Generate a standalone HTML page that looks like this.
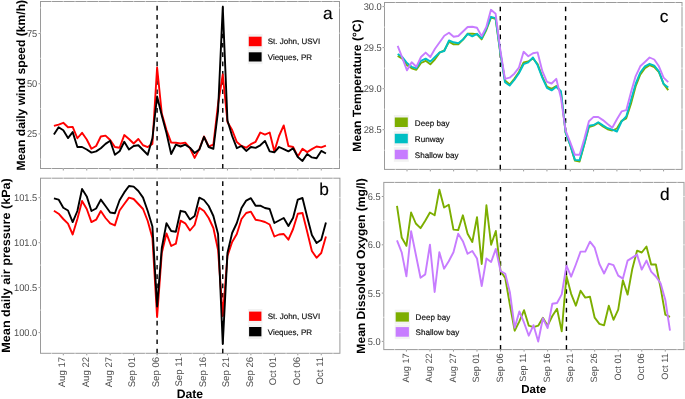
<!DOCTYPE html>
<html><head><meta charset="utf-8"><style>
html,body{margin:0;padding:0;background:#fff;width:685px;height:399px;overflow:hidden}
body{position:relative;font-family:"Liberation Sans", sans-serif;text-rendering:geometricPrecision}
</style></head><body>
<svg width="685" height="399" viewBox="0 0 685 399" style="position:absolute;left:0;top:0;will-change:transform">
<g font-family='"Liberation Sans", sans-serif'>
<rect x="40.5" y="1.5" width="299.00" height="167.00" fill="none" stroke="#9a9a9a" stroke-width="1"/>
<line x1="51.57" y1="0.5" x2="51.57" y2="2.5" stroke="#ffffff" stroke-width="0.55"/>
<line x1="51.57" y1="167.5" x2="51.57" y2="169.5" stroke="#ffffff" stroke-width="0.55"/>
<line x1="63.30" y1="0.5" x2="63.30" y2="2.5" stroke="#ffffff" stroke-width="0.55"/>
<line x1="63.30" y1="167.5" x2="63.30" y2="169.5" stroke="#ffffff" stroke-width="0.55"/>
<line x1="75.03" y1="0.5" x2="75.03" y2="2.5" stroke="#ffffff" stroke-width="0.55"/>
<line x1="75.03" y1="167.5" x2="75.03" y2="169.5" stroke="#ffffff" stroke-width="0.55"/>
<line x1="86.75" y1="0.5" x2="86.75" y2="2.5" stroke="#ffffff" stroke-width="0.55"/>
<line x1="86.75" y1="167.5" x2="86.75" y2="169.5" stroke="#ffffff" stroke-width="0.55"/>
<line x1="98.47" y1="0.5" x2="98.47" y2="2.5" stroke="#ffffff" stroke-width="0.55"/>
<line x1="98.47" y1="167.5" x2="98.47" y2="169.5" stroke="#ffffff" stroke-width="0.55"/>
<line x1="110.20" y1="0.5" x2="110.20" y2="2.5" stroke="#ffffff" stroke-width="0.55"/>
<line x1="110.20" y1="167.5" x2="110.20" y2="169.5" stroke="#ffffff" stroke-width="0.55"/>
<line x1="121.93" y1="0.5" x2="121.93" y2="2.5" stroke="#ffffff" stroke-width="0.55"/>
<line x1="121.93" y1="167.5" x2="121.93" y2="169.5" stroke="#ffffff" stroke-width="0.55"/>
<line x1="133.65" y1="0.5" x2="133.65" y2="2.5" stroke="#ffffff" stroke-width="0.55"/>
<line x1="133.65" y1="167.5" x2="133.65" y2="169.5" stroke="#ffffff" stroke-width="0.55"/>
<line x1="145.38" y1="0.5" x2="145.38" y2="2.5" stroke="#ffffff" stroke-width="0.55"/>
<line x1="145.38" y1="167.5" x2="145.38" y2="169.5" stroke="#ffffff" stroke-width="0.55"/>
<line x1="157.10" y1="0.5" x2="157.10" y2="2.5" stroke="#ffffff" stroke-width="0.55"/>
<line x1="157.10" y1="167.5" x2="157.10" y2="169.5" stroke="#ffffff" stroke-width="0.55"/>
<line x1="168.82" y1="0.5" x2="168.82" y2="2.5" stroke="#ffffff" stroke-width="0.55"/>
<line x1="168.82" y1="167.5" x2="168.82" y2="169.5" stroke="#ffffff" stroke-width="0.55"/>
<line x1="180.55" y1="0.5" x2="180.55" y2="2.5" stroke="#ffffff" stroke-width="0.55"/>
<line x1="180.55" y1="167.5" x2="180.55" y2="169.5" stroke="#ffffff" stroke-width="0.55"/>
<line x1="192.28" y1="0.5" x2="192.28" y2="2.5" stroke="#ffffff" stroke-width="0.55"/>
<line x1="192.28" y1="167.5" x2="192.28" y2="169.5" stroke="#ffffff" stroke-width="0.55"/>
<line x1="204.00" y1="0.5" x2="204.00" y2="2.5" stroke="#ffffff" stroke-width="0.55"/>
<line x1="204.00" y1="167.5" x2="204.00" y2="169.5" stroke="#ffffff" stroke-width="0.55"/>
<line x1="215.73" y1="0.5" x2="215.73" y2="2.5" stroke="#ffffff" stroke-width="0.55"/>
<line x1="215.73" y1="167.5" x2="215.73" y2="169.5" stroke="#ffffff" stroke-width="0.55"/>
<line x1="227.45" y1="0.5" x2="227.45" y2="2.5" stroke="#ffffff" stroke-width="0.55"/>
<line x1="227.45" y1="167.5" x2="227.45" y2="169.5" stroke="#ffffff" stroke-width="0.55"/>
<line x1="239.18" y1="0.5" x2="239.18" y2="2.5" stroke="#ffffff" stroke-width="0.55"/>
<line x1="239.18" y1="167.5" x2="239.18" y2="169.5" stroke="#ffffff" stroke-width="0.55"/>
<line x1="250.90" y1="0.5" x2="250.90" y2="2.5" stroke="#ffffff" stroke-width="0.55"/>
<line x1="250.90" y1="167.5" x2="250.90" y2="169.5" stroke="#ffffff" stroke-width="0.55"/>
<line x1="262.62" y1="0.5" x2="262.62" y2="2.5" stroke="#ffffff" stroke-width="0.55"/>
<line x1="262.62" y1="167.5" x2="262.62" y2="169.5" stroke="#ffffff" stroke-width="0.55"/>
<line x1="274.35" y1="0.5" x2="274.35" y2="2.5" stroke="#ffffff" stroke-width="0.55"/>
<line x1="274.35" y1="167.5" x2="274.35" y2="169.5" stroke="#ffffff" stroke-width="0.55"/>
<line x1="286.08" y1="0.5" x2="286.08" y2="2.5" stroke="#ffffff" stroke-width="0.55"/>
<line x1="286.08" y1="167.5" x2="286.08" y2="169.5" stroke="#ffffff" stroke-width="0.55"/>
<line x1="297.80" y1="0.5" x2="297.80" y2="2.5" stroke="#ffffff" stroke-width="0.55"/>
<line x1="297.80" y1="167.5" x2="297.80" y2="169.5" stroke="#ffffff" stroke-width="0.55"/>
<line x1="309.53" y1="0.5" x2="309.53" y2="2.5" stroke="#ffffff" stroke-width="0.55"/>
<line x1="309.53" y1="167.5" x2="309.53" y2="169.5" stroke="#ffffff" stroke-width="0.55"/>
<line x1="321.25" y1="0.5" x2="321.25" y2="2.5" stroke="#ffffff" stroke-width="0.55"/>
<line x1="321.25" y1="167.5" x2="321.25" y2="169.5" stroke="#ffffff" stroke-width="0.55"/>
<line x1="332.98" y1="0.5" x2="332.98" y2="2.5" stroke="#ffffff" stroke-width="0.55"/>
<line x1="332.98" y1="167.5" x2="332.98" y2="169.5" stroke="#ffffff" stroke-width="0.55"/>
<line x1="39.5" y1="159.10" x2="41.5" y2="159.10" stroke="#ffffff" stroke-width="0.55"/>
<line x1="338.5" y1="159.10" x2="340.5" y2="159.10" stroke="#ffffff" stroke-width="0.55"/>
<line x1="39.5" y1="133.90" x2="41.5" y2="133.90" stroke="#ffffff" stroke-width="0.55"/>
<line x1="338.5" y1="133.90" x2="340.5" y2="133.90" stroke="#ffffff" stroke-width="0.55"/>
<line x1="39.5" y1="108.70" x2="41.5" y2="108.70" stroke="#ffffff" stroke-width="0.55"/>
<line x1="338.5" y1="108.70" x2="340.5" y2="108.70" stroke="#ffffff" stroke-width="0.55"/>
<line x1="39.5" y1="83.50" x2="41.5" y2="83.50" stroke="#ffffff" stroke-width="0.55"/>
<line x1="338.5" y1="83.50" x2="340.5" y2="83.50" stroke="#ffffff" stroke-width="0.55"/>
<line x1="39.5" y1="58.30" x2="41.5" y2="58.30" stroke="#ffffff" stroke-width="0.55"/>
<line x1="338.5" y1="58.30" x2="340.5" y2="58.30" stroke="#ffffff" stroke-width="0.55"/>
<line x1="39.5" y1="33.10" x2="41.5" y2="33.10" stroke="#ffffff" stroke-width="0.55"/>
<line x1="338.5" y1="33.10" x2="340.5" y2="33.10" stroke="#ffffff" stroke-width="0.55"/>
<line x1="39.5" y1="7.90" x2="41.5" y2="7.90" stroke="#ffffff" stroke-width="0.55"/>
<line x1="338.5" y1="7.90" x2="340.5" y2="7.90" stroke="#ffffff" stroke-width="0.55"/>
<line x1="157.10" y1="168.5" x2="157.10" y2="1.5" stroke="#000" stroke-width="1.4" stroke-dasharray="4.6,4.7"/>
<line x1="222.76" y1="168.5" x2="222.76" y2="1.5" stroke="#000" stroke-width="1.4" stroke-dasharray="4.6,4.7"/>
<polyline points="53.92,125.96 58.61,124.56 63.30,122.81 67.99,127.19 72.68,126.84 77.37,138.25 82.06,132.81 86.75,139.47 91.44,148.77 96.13,145.96 100.82,136.49 105.51,135.61 110.20,140.00 114.89,147.02 119.58,147.72 124.27,135.09 128.96,138.95 133.65,143.51 138.34,138.95 143.03,145.26 147.72,147.02 152.41,143.86 157.10,67.50 161.79,113.50 166.48,130.00 171.17,142.60 175.86,142.80 180.55,143.50 185.24,142.60 189.93,148.20 194.62,157.90 199.31,149.10 204.00,136.50 208.69,146.50 213.38,144.70 218.07,104.00 222.76,74.50 227.45,122.00 232.14,130.00 236.83,142.10 241.52,146.00 246.21,147.70 250.90,144.20 255.59,141.80 260.28,132.50 264.97,134.60 269.66,132.50 274.35,151.40 279.04,136.00 283.73,125.40 288.42,146.00 293.11,147.00 297.80,156.50 302.49,148.80 307.18,152.10 311.87,149.10 316.56,146.50 321.25,147.40 325.94,145.60" fill="none" stroke="#ff0000" stroke-width="1.9" stroke-linejoin="round" stroke-linecap="butt"/>
<polyline points="53.92,134.56 58.61,127.19 63.30,130.18 67.99,138.07 72.68,132.10 77.37,147.02 82.06,147.02 86.75,149.47 91.44,152.63 96.13,151.40 100.82,148.25 105.51,143.86 110.20,140.70 114.89,154.74 119.58,151.23 124.27,141.75 128.96,149.47 133.65,145.96 138.34,145.26 143.03,150.00 147.72,154.74 152.41,138.25 157.10,96.50 161.79,115.50 166.48,133.00 171.17,154.00 175.86,144.70 180.55,146.50 185.24,144.70 189.93,147.70 194.62,153.00 199.31,149.60 204.00,136.80 208.69,147.00 213.38,148.80 218.07,111.00 222.76,7.00 227.45,120.50 232.14,136.00 236.83,148.20 241.52,146.00 246.21,150.90 250.90,147.00 255.59,147.90 260.28,145.30 264.97,140.90 269.66,151.40 274.35,152.30 279.04,147.00 283.73,149.10 288.42,151.40 293.11,148.20 297.80,157.00 302.49,160.90 307.18,154.00 311.87,157.40 316.56,158.20 321.25,150.90 325.94,153.50" fill="none" stroke="#000000" stroke-width="1.9" stroke-linejoin="round" stroke-linecap="butt"/>
<line x1="63.30" y1="168.5" x2="63.30" y2="170.5" stroke="#9a9a9a" stroke-width="1"/>
<line x1="86.75" y1="168.5" x2="86.75" y2="170.5" stroke="#9a9a9a" stroke-width="1"/>
<line x1="110.20" y1="168.5" x2="110.20" y2="170.5" stroke="#9a9a9a" stroke-width="1"/>
<line x1="133.65" y1="168.5" x2="133.65" y2="170.5" stroke="#9a9a9a" stroke-width="1"/>
<line x1="157.10" y1="168.5" x2="157.10" y2="170.5" stroke="#9a9a9a" stroke-width="1"/>
<line x1="180.55" y1="168.5" x2="180.55" y2="170.5" stroke="#9a9a9a" stroke-width="1"/>
<line x1="204.00" y1="168.5" x2="204.00" y2="170.5" stroke="#9a9a9a" stroke-width="1"/>
<line x1="227.45" y1="168.5" x2="227.45" y2="170.5" stroke="#9a9a9a" stroke-width="1"/>
<line x1="250.90" y1="168.5" x2="250.90" y2="170.5" stroke="#9a9a9a" stroke-width="1"/>
<line x1="274.35" y1="168.5" x2="274.35" y2="170.5" stroke="#9a9a9a" stroke-width="1"/>
<line x1="297.80" y1="168.5" x2="297.80" y2="170.5" stroke="#9a9a9a" stroke-width="1"/>
<line x1="321.25" y1="168.5" x2="321.25" y2="170.5" stroke="#9a9a9a" stroke-width="1"/>
<line x1="38.5" y1="133.9" x2="40.5" y2="133.9" stroke="#9a9a9a" stroke-width="1"/>
<text x="26.96" y="137.41" font-size="9.8" fill="#4d4d4d" textLength="10.34" lengthAdjust="spacingAndGlyphs">25</text>
<line x1="38.5" y1="83.7" x2="40.5" y2="83.7" stroke="#9a9a9a" stroke-width="1"/>
<text x="26.96" y="87.21" font-size="9.8" fill="#4d4d4d" textLength="10.34" lengthAdjust="spacingAndGlyphs">50</text>
<line x1="38.5" y1="33.5" x2="40.5" y2="33.5" stroke="#9a9a9a" stroke-width="1"/>
<text x="26.96" y="37.01" font-size="9.8" fill="#4d4d4d" textLength="10.34" lengthAdjust="spacingAndGlyphs">75</text>
<rect x="247.8" y="34.15" width="14.80" height="14.6" fill="#f2f2f2"/>
<rect x="248.8" y="36.7" width="12.80" height="9.50" fill="#ff0000"/>
<text x="267.7" y="44.40" font-size="8" fill="#111" stroke="#111" stroke-width="0.18">St. John, USVI</text>
<rect x="247.8" y="49.60" width="14.80" height="14.6" fill="#f2f2f2"/>
<rect x="248.8" y="52.3" width="12.80" height="9.20" fill="#000000"/>
<text x="267.7" y="59.70" font-size="8" fill="#111" stroke="#111" stroke-width="0.18">Vieques, PR</text>
<text x="332.6" y="19.1" text-anchor="end" font-size="17.3" fill="#000" stroke="#000" stroke-width="0.15">a</text>
<text transform="translate(24.6,85.2) rotate(-90)" text-anchor="middle" font-size="12" font-weight="bold" fill="#000" textLength="170.5" lengthAdjust="spacingAndGlyphs">Mean daily wind speed (km/h)</text>
<rect x="40.5" y="178.2" width="299.40" height="175.10" fill="none" stroke="#9a9a9a" stroke-width="1"/>
<line x1="51.57" y1="177.2" x2="51.57" y2="179.2" stroke="#ffffff" stroke-width="0.55"/>
<line x1="51.57" y1="352.3" x2="51.57" y2="354.3" stroke="#ffffff" stroke-width="0.55"/>
<line x1="63.30" y1="177.2" x2="63.30" y2="179.2" stroke="#ffffff" stroke-width="0.55"/>
<line x1="63.30" y1="352.3" x2="63.30" y2="354.3" stroke="#ffffff" stroke-width="0.55"/>
<line x1="75.03" y1="177.2" x2="75.03" y2="179.2" stroke="#ffffff" stroke-width="0.55"/>
<line x1="75.03" y1="352.3" x2="75.03" y2="354.3" stroke="#ffffff" stroke-width="0.55"/>
<line x1="86.75" y1="177.2" x2="86.75" y2="179.2" stroke="#ffffff" stroke-width="0.55"/>
<line x1="86.75" y1="352.3" x2="86.75" y2="354.3" stroke="#ffffff" stroke-width="0.55"/>
<line x1="98.47" y1="177.2" x2="98.47" y2="179.2" stroke="#ffffff" stroke-width="0.55"/>
<line x1="98.47" y1="352.3" x2="98.47" y2="354.3" stroke="#ffffff" stroke-width="0.55"/>
<line x1="110.20" y1="177.2" x2="110.20" y2="179.2" stroke="#ffffff" stroke-width="0.55"/>
<line x1="110.20" y1="352.3" x2="110.20" y2="354.3" stroke="#ffffff" stroke-width="0.55"/>
<line x1="121.93" y1="177.2" x2="121.93" y2="179.2" stroke="#ffffff" stroke-width="0.55"/>
<line x1="121.93" y1="352.3" x2="121.93" y2="354.3" stroke="#ffffff" stroke-width="0.55"/>
<line x1="133.65" y1="177.2" x2="133.65" y2="179.2" stroke="#ffffff" stroke-width="0.55"/>
<line x1="133.65" y1="352.3" x2="133.65" y2="354.3" stroke="#ffffff" stroke-width="0.55"/>
<line x1="145.38" y1="177.2" x2="145.38" y2="179.2" stroke="#ffffff" stroke-width="0.55"/>
<line x1="145.38" y1="352.3" x2="145.38" y2="354.3" stroke="#ffffff" stroke-width="0.55"/>
<line x1="157.10" y1="177.2" x2="157.10" y2="179.2" stroke="#ffffff" stroke-width="0.55"/>
<line x1="157.10" y1="352.3" x2="157.10" y2="354.3" stroke="#ffffff" stroke-width="0.55"/>
<line x1="168.82" y1="177.2" x2="168.82" y2="179.2" stroke="#ffffff" stroke-width="0.55"/>
<line x1="168.82" y1="352.3" x2="168.82" y2="354.3" stroke="#ffffff" stroke-width="0.55"/>
<line x1="180.55" y1="177.2" x2="180.55" y2="179.2" stroke="#ffffff" stroke-width="0.55"/>
<line x1="180.55" y1="352.3" x2="180.55" y2="354.3" stroke="#ffffff" stroke-width="0.55"/>
<line x1="192.28" y1="177.2" x2="192.28" y2="179.2" stroke="#ffffff" stroke-width="0.55"/>
<line x1="192.28" y1="352.3" x2="192.28" y2="354.3" stroke="#ffffff" stroke-width="0.55"/>
<line x1="204.00" y1="177.2" x2="204.00" y2="179.2" stroke="#ffffff" stroke-width="0.55"/>
<line x1="204.00" y1="352.3" x2="204.00" y2="354.3" stroke="#ffffff" stroke-width="0.55"/>
<line x1="215.73" y1="177.2" x2="215.73" y2="179.2" stroke="#ffffff" stroke-width="0.55"/>
<line x1="215.73" y1="352.3" x2="215.73" y2="354.3" stroke="#ffffff" stroke-width="0.55"/>
<line x1="227.45" y1="177.2" x2="227.45" y2="179.2" stroke="#ffffff" stroke-width="0.55"/>
<line x1="227.45" y1="352.3" x2="227.45" y2="354.3" stroke="#ffffff" stroke-width="0.55"/>
<line x1="239.18" y1="177.2" x2="239.18" y2="179.2" stroke="#ffffff" stroke-width="0.55"/>
<line x1="239.18" y1="352.3" x2="239.18" y2="354.3" stroke="#ffffff" stroke-width="0.55"/>
<line x1="250.90" y1="177.2" x2="250.90" y2="179.2" stroke="#ffffff" stroke-width="0.55"/>
<line x1="250.90" y1="352.3" x2="250.90" y2="354.3" stroke="#ffffff" stroke-width="0.55"/>
<line x1="262.62" y1="177.2" x2="262.62" y2="179.2" stroke="#ffffff" stroke-width="0.55"/>
<line x1="262.62" y1="352.3" x2="262.62" y2="354.3" stroke="#ffffff" stroke-width="0.55"/>
<line x1="274.35" y1="177.2" x2="274.35" y2="179.2" stroke="#ffffff" stroke-width="0.55"/>
<line x1="274.35" y1="352.3" x2="274.35" y2="354.3" stroke="#ffffff" stroke-width="0.55"/>
<line x1="286.08" y1="177.2" x2="286.08" y2="179.2" stroke="#ffffff" stroke-width="0.55"/>
<line x1="286.08" y1="352.3" x2="286.08" y2="354.3" stroke="#ffffff" stroke-width="0.55"/>
<line x1="297.80" y1="177.2" x2="297.80" y2="179.2" stroke="#ffffff" stroke-width="0.55"/>
<line x1="297.80" y1="352.3" x2="297.80" y2="354.3" stroke="#ffffff" stroke-width="0.55"/>
<line x1="309.53" y1="177.2" x2="309.53" y2="179.2" stroke="#ffffff" stroke-width="0.55"/>
<line x1="309.53" y1="352.3" x2="309.53" y2="354.3" stroke="#ffffff" stroke-width="0.55"/>
<line x1="321.25" y1="177.2" x2="321.25" y2="179.2" stroke="#ffffff" stroke-width="0.55"/>
<line x1="321.25" y1="352.3" x2="321.25" y2="354.3" stroke="#ffffff" stroke-width="0.55"/>
<line x1="332.98" y1="177.2" x2="332.98" y2="179.2" stroke="#ffffff" stroke-width="0.55"/>
<line x1="332.98" y1="352.3" x2="332.98" y2="354.3" stroke="#ffffff" stroke-width="0.55"/>
<line x1="39.5" y1="332.60" x2="41.5" y2="332.60" stroke="#ffffff" stroke-width="0.55"/>
<line x1="338.9" y1="332.60" x2="340.9" y2="332.60" stroke="#ffffff" stroke-width="0.55"/>
<line x1="39.5" y1="310.10" x2="41.5" y2="310.10" stroke="#ffffff" stroke-width="0.55"/>
<line x1="338.9" y1="310.10" x2="340.9" y2="310.10" stroke="#ffffff" stroke-width="0.55"/>
<line x1="39.5" y1="287.60" x2="41.5" y2="287.60" stroke="#ffffff" stroke-width="0.55"/>
<line x1="338.9" y1="287.60" x2="340.9" y2="287.60" stroke="#ffffff" stroke-width="0.55"/>
<line x1="39.5" y1="265.10" x2="41.5" y2="265.10" stroke="#ffffff" stroke-width="0.55"/>
<line x1="338.9" y1="265.10" x2="340.9" y2="265.10" stroke="#ffffff" stroke-width="0.55"/>
<line x1="39.5" y1="242.60" x2="41.5" y2="242.60" stroke="#ffffff" stroke-width="0.55"/>
<line x1="338.9" y1="242.60" x2="340.9" y2="242.60" stroke="#ffffff" stroke-width="0.55"/>
<line x1="39.5" y1="220.10" x2="41.5" y2="220.10" stroke="#ffffff" stroke-width="0.55"/>
<line x1="338.9" y1="220.10" x2="340.9" y2="220.10" stroke="#ffffff" stroke-width="0.55"/>
<line x1="39.5" y1="197.60" x2="41.5" y2="197.60" stroke="#ffffff" stroke-width="0.55"/>
<line x1="338.9" y1="197.60" x2="340.9" y2="197.60" stroke="#ffffff" stroke-width="0.55"/>
<line x1="157.10" y1="353.3" x2="157.10" y2="178.2" stroke="#000" stroke-width="1.4" stroke-dasharray="4.6,4.7"/>
<line x1="222.76" y1="353.3" x2="222.76" y2="178.2" stroke="#000" stroke-width="1.4" stroke-dasharray="4.6,4.7"/>
<polyline points="53.92,210.70 58.61,213.70 63.30,219.00 67.99,223.70 72.68,234.50 77.37,219.00 82.06,201.00 86.75,209.00 91.44,222.10 96.13,219.70 100.82,211.00 105.51,218.00 110.20,223.40 114.89,225.40 119.58,210.50 124.27,204.00 128.96,197.60 133.65,199.00 138.34,204.00 143.03,209.00 147.72,221.00 152.41,238.00 157.10,317.00 161.79,253.00 166.48,233.40 171.17,246.00 175.86,243.70 180.55,220.70 185.24,223.30 189.93,230.50 194.62,225.00 199.31,207.70 204.00,211.00 208.69,218.00 213.38,228.00 218.07,250.00 222.76,316.00 227.45,256.00 232.14,242.00 236.83,234.00 241.52,219.00 246.21,213.00 250.90,211.70 255.59,219.70 260.28,220.60 264.97,222.00 269.66,224.50 274.35,236.50 279.04,234.50 283.73,234.00 288.42,239.70 293.11,229.00 297.80,213.70 302.49,213.00 307.18,231.70 311.87,251.00 316.56,257.80 321.25,253.00 325.94,236.50" fill="none" stroke="#ff0000" stroke-width="1.9" stroke-linejoin="round" stroke-linecap="butt"/>
<polyline points="53.92,198.40 58.61,199.60 63.30,207.70 67.99,210.50 72.68,222.10 77.37,211.00 82.06,189.00 86.75,196.40 91.44,211.00 96.13,208.50 100.82,199.60 105.51,206.00 110.20,212.50 114.89,213.30 119.58,200.30 124.27,192.40 128.96,186.00 133.65,186.60 138.34,191.00 143.03,197.60 147.72,211.00 152.41,226.50 157.10,306.50 161.79,248.00 166.48,223.20 171.17,231.00 175.86,231.70 180.55,210.80 185.24,212.00 189.93,219.50 194.62,216.00 199.31,197.60 204.00,200.00 208.69,206.00 213.38,216.00 218.07,234.00 222.76,344.00 227.45,253.00 232.14,233.00 236.83,223.00 241.52,208.00 246.21,200.60 250.90,198.20 255.59,205.70 260.28,205.70 264.97,208.00 269.66,209.00 274.35,223.00 279.04,220.50 283.73,218.00 288.42,226.00 293.11,217.70 297.80,199.60 302.49,198.00 307.18,217.00 311.87,235.00 316.56,243.00 321.25,239.70 325.94,222.50" fill="none" stroke="#000000" stroke-width="1.9" stroke-linejoin="round" stroke-linecap="butt"/>
<line x1="63.30" y1="353.3" x2="63.30" y2="355.3" stroke="#9a9a9a" stroke-width="1"/>
<text transform="translate(65.10,356.9) rotate(-90)" text-anchor="end" font-size="9.6" fill="#4d4d4d">Aug 17</text>
<line x1="86.75" y1="353.3" x2="86.75" y2="355.3" stroke="#9a9a9a" stroke-width="1"/>
<text transform="translate(88.55,356.9) rotate(-90)" text-anchor="end" font-size="9.6" fill="#4d4d4d">Aug 22</text>
<line x1="110.20" y1="353.3" x2="110.20" y2="355.3" stroke="#9a9a9a" stroke-width="1"/>
<text transform="translate(112.00,356.9) rotate(-90)" text-anchor="end" font-size="9.6" fill="#4d4d4d">Aug 27</text>
<line x1="133.65" y1="353.3" x2="133.65" y2="355.3" stroke="#9a9a9a" stroke-width="1"/>
<text transform="translate(135.45,356.9) rotate(-90)" text-anchor="end" font-size="9.6" fill="#4d4d4d">Sep 01</text>
<line x1="157.10" y1="353.3" x2="157.10" y2="355.3" stroke="#9a9a9a" stroke-width="1"/>
<text transform="translate(158.90,356.9) rotate(-90)" text-anchor="end" font-size="9.6" fill="#4d4d4d">Sep 06</text>
<line x1="180.55" y1="353.3" x2="180.55" y2="355.3" stroke="#9a9a9a" stroke-width="1"/>
<text transform="translate(182.35,356.9) rotate(-90)" text-anchor="end" font-size="9.6" fill="#4d4d4d">Sep 11</text>
<line x1="204.00" y1="353.3" x2="204.00" y2="355.3" stroke="#9a9a9a" stroke-width="1"/>
<text transform="translate(205.80,356.9) rotate(-90)" text-anchor="end" font-size="9.6" fill="#4d4d4d">Sep 16</text>
<line x1="227.45" y1="353.3" x2="227.45" y2="355.3" stroke="#9a9a9a" stroke-width="1"/>
<text transform="translate(229.25,356.9) rotate(-90)" text-anchor="end" font-size="9.6" fill="#4d4d4d">Sep 21</text>
<line x1="250.90" y1="353.3" x2="250.90" y2="355.3" stroke="#9a9a9a" stroke-width="1"/>
<text transform="translate(252.70,356.9) rotate(-90)" text-anchor="end" font-size="9.6" fill="#4d4d4d">Sep 26</text>
<line x1="274.35" y1="353.3" x2="274.35" y2="355.3" stroke="#9a9a9a" stroke-width="1"/>
<text transform="translate(276.15,356.9) rotate(-90)" text-anchor="end" font-size="9.6" fill="#4d4d4d">Oct 01</text>
<line x1="297.80" y1="353.3" x2="297.80" y2="355.3" stroke="#9a9a9a" stroke-width="1"/>
<text transform="translate(299.60,356.9) rotate(-90)" text-anchor="end" font-size="9.6" fill="#4d4d4d">Oct 06</text>
<line x1="321.25" y1="353.3" x2="321.25" y2="355.3" stroke="#9a9a9a" stroke-width="1"/>
<text transform="translate(323.05,356.9) rotate(-90)" text-anchor="end" font-size="9.6" fill="#4d4d4d">Oct 11</text>
<line x1="38.5" y1="332.6" x2="40.5" y2="332.6" stroke="#9a9a9a" stroke-width="1"/>
<text x="14.03" y="336.11" font-size="9.8" fill="#4d4d4d" textLength="23.27" lengthAdjust="spacingAndGlyphs">100.0</text>
<line x1="38.5" y1="287.6" x2="40.5" y2="287.6" stroke="#9a9a9a" stroke-width="1"/>
<text x="14.03" y="291.11" font-size="9.8" fill="#4d4d4d" textLength="23.27" lengthAdjust="spacingAndGlyphs">100.5</text>
<line x1="38.5" y1="242.7" x2="40.5" y2="242.7" stroke="#9a9a9a" stroke-width="1"/>
<text x="14.03" y="246.21" font-size="9.8" fill="#4d4d4d" textLength="23.27" lengthAdjust="spacingAndGlyphs">101.0</text>
<line x1="38.5" y1="197.7" x2="40.5" y2="197.7" stroke="#9a9a9a" stroke-width="1"/>
<text x="14.03" y="201.21" font-size="9.8" fill="#4d4d4d" textLength="23.27" lengthAdjust="spacingAndGlyphs">101.5</text>
<rect x="248.1" y="308.95" width="14.30" height="14.6" fill="#f2f2f2"/>
<rect x="249.1" y="311.6" width="12.30" height="9.30" fill="#ff0000"/>
<text x="267.7" y="319.30" font-size="8" fill="#111" stroke="#111" stroke-width="0.18">St. John, USVI</text>
<rect x="248.1" y="324.35" width="14.30" height="14.6" fill="#f2f2f2"/>
<rect x="249.1" y="327" width="12.30" height="9.30" fill="#000000"/>
<text x="267.7" y="334.60" font-size="8" fill="#111" stroke="#111" stroke-width="0.18">Vieques, PR</text>
<text x="328.8" y="195.4" text-anchor="end" font-size="17.3" fill="#000" stroke="#000" stroke-width="0.15">b</text>
<text transform="translate(9.8,265.45) rotate(-90)" text-anchor="middle" font-size="12" font-weight="bold" fill="#000" textLength="174.4" lengthAdjust="spacingAndGlyphs">Mean daily air pressure (kPa)</text>
<text x="189.85" y="397.6" text-anchor="middle" font-size="12.2" font-weight="bold" fill="#000">Date</text>
<rect x="384.5" y="2.5" width="297.50" height="166.90" fill="none" stroke="#9a9a9a" stroke-width="1"/>
<line x1="395.34" y1="1.5" x2="395.34" y2="3.5" stroke="#ffffff" stroke-width="0.55"/>
<line x1="395.34" y1="168.4" x2="395.34" y2="170.4" stroke="#ffffff" stroke-width="0.55"/>
<line x1="407.00" y1="1.5" x2="407.00" y2="3.5" stroke="#ffffff" stroke-width="0.55"/>
<line x1="407.00" y1="168.4" x2="407.00" y2="170.4" stroke="#ffffff" stroke-width="0.55"/>
<line x1="418.66" y1="1.5" x2="418.66" y2="3.5" stroke="#ffffff" stroke-width="0.55"/>
<line x1="418.66" y1="168.4" x2="418.66" y2="170.4" stroke="#ffffff" stroke-width="0.55"/>
<line x1="430.32" y1="1.5" x2="430.32" y2="3.5" stroke="#ffffff" stroke-width="0.55"/>
<line x1="430.32" y1="168.4" x2="430.32" y2="170.4" stroke="#ffffff" stroke-width="0.55"/>
<line x1="441.99" y1="1.5" x2="441.99" y2="3.5" stroke="#ffffff" stroke-width="0.55"/>
<line x1="441.99" y1="168.4" x2="441.99" y2="170.4" stroke="#ffffff" stroke-width="0.55"/>
<line x1="453.65" y1="1.5" x2="453.65" y2="3.5" stroke="#ffffff" stroke-width="0.55"/>
<line x1="453.65" y1="168.4" x2="453.65" y2="170.4" stroke="#ffffff" stroke-width="0.55"/>
<line x1="465.31" y1="1.5" x2="465.31" y2="3.5" stroke="#ffffff" stroke-width="0.55"/>
<line x1="465.31" y1="168.4" x2="465.31" y2="170.4" stroke="#ffffff" stroke-width="0.55"/>
<line x1="476.98" y1="1.5" x2="476.98" y2="3.5" stroke="#ffffff" stroke-width="0.55"/>
<line x1="476.98" y1="168.4" x2="476.98" y2="170.4" stroke="#ffffff" stroke-width="0.55"/>
<line x1="488.64" y1="1.5" x2="488.64" y2="3.5" stroke="#ffffff" stroke-width="0.55"/>
<line x1="488.64" y1="168.4" x2="488.64" y2="170.4" stroke="#ffffff" stroke-width="0.55"/>
<line x1="500.30" y1="1.5" x2="500.30" y2="3.5" stroke="#ffffff" stroke-width="0.55"/>
<line x1="500.30" y1="168.4" x2="500.30" y2="170.4" stroke="#ffffff" stroke-width="0.55"/>
<line x1="511.96" y1="1.5" x2="511.96" y2="3.5" stroke="#ffffff" stroke-width="0.55"/>
<line x1="511.96" y1="168.4" x2="511.96" y2="170.4" stroke="#ffffff" stroke-width="0.55"/>
<line x1="523.62" y1="1.5" x2="523.62" y2="3.5" stroke="#ffffff" stroke-width="0.55"/>
<line x1="523.62" y1="168.4" x2="523.62" y2="170.4" stroke="#ffffff" stroke-width="0.55"/>
<line x1="535.29" y1="1.5" x2="535.29" y2="3.5" stroke="#ffffff" stroke-width="0.55"/>
<line x1="535.29" y1="168.4" x2="535.29" y2="170.4" stroke="#ffffff" stroke-width="0.55"/>
<line x1="546.95" y1="1.5" x2="546.95" y2="3.5" stroke="#ffffff" stroke-width="0.55"/>
<line x1="546.95" y1="168.4" x2="546.95" y2="170.4" stroke="#ffffff" stroke-width="0.55"/>
<line x1="558.61" y1="1.5" x2="558.61" y2="3.5" stroke="#ffffff" stroke-width="0.55"/>
<line x1="558.61" y1="168.4" x2="558.61" y2="170.4" stroke="#ffffff" stroke-width="0.55"/>
<line x1="570.27" y1="1.5" x2="570.27" y2="3.5" stroke="#ffffff" stroke-width="0.55"/>
<line x1="570.27" y1="168.4" x2="570.27" y2="170.4" stroke="#ffffff" stroke-width="0.55"/>
<line x1="581.94" y1="1.5" x2="581.94" y2="3.5" stroke="#ffffff" stroke-width="0.55"/>
<line x1="581.94" y1="168.4" x2="581.94" y2="170.4" stroke="#ffffff" stroke-width="0.55"/>
<line x1="593.60" y1="1.5" x2="593.60" y2="3.5" stroke="#ffffff" stroke-width="0.55"/>
<line x1="593.60" y1="168.4" x2="593.60" y2="170.4" stroke="#ffffff" stroke-width="0.55"/>
<line x1="605.26" y1="1.5" x2="605.26" y2="3.5" stroke="#ffffff" stroke-width="0.55"/>
<line x1="605.26" y1="168.4" x2="605.26" y2="170.4" stroke="#ffffff" stroke-width="0.55"/>
<line x1="616.92" y1="1.5" x2="616.92" y2="3.5" stroke="#ffffff" stroke-width="0.55"/>
<line x1="616.92" y1="168.4" x2="616.92" y2="170.4" stroke="#ffffff" stroke-width="0.55"/>
<line x1="628.59" y1="1.5" x2="628.59" y2="3.5" stroke="#ffffff" stroke-width="0.55"/>
<line x1="628.59" y1="168.4" x2="628.59" y2="170.4" stroke="#ffffff" stroke-width="0.55"/>
<line x1="640.25" y1="1.5" x2="640.25" y2="3.5" stroke="#ffffff" stroke-width="0.55"/>
<line x1="640.25" y1="168.4" x2="640.25" y2="170.4" stroke="#ffffff" stroke-width="0.55"/>
<line x1="651.91" y1="1.5" x2="651.91" y2="3.5" stroke="#ffffff" stroke-width="0.55"/>
<line x1="651.91" y1="168.4" x2="651.91" y2="170.4" stroke="#ffffff" stroke-width="0.55"/>
<line x1="663.58" y1="1.5" x2="663.58" y2="3.5" stroke="#ffffff" stroke-width="0.55"/>
<line x1="663.58" y1="168.4" x2="663.58" y2="170.4" stroke="#ffffff" stroke-width="0.55"/>
<line x1="675.24" y1="1.5" x2="675.24" y2="3.5" stroke="#ffffff" stroke-width="0.55"/>
<line x1="675.24" y1="168.4" x2="675.24" y2="170.4" stroke="#ffffff" stroke-width="0.55"/>
<line x1="383.5" y1="6.60" x2="385.5" y2="6.60" stroke="#ffffff" stroke-width="0.55"/>
<line x1="681.0" y1="6.60" x2="683.0" y2="6.60" stroke="#ffffff" stroke-width="0.55"/>
<line x1="383.5" y1="27.12" x2="385.5" y2="27.12" stroke="#ffffff" stroke-width="0.55"/>
<line x1="681.0" y1="27.12" x2="683.0" y2="27.12" stroke="#ffffff" stroke-width="0.55"/>
<line x1="383.5" y1="47.63" x2="385.5" y2="47.63" stroke="#ffffff" stroke-width="0.55"/>
<line x1="681.0" y1="47.63" x2="683.0" y2="47.63" stroke="#ffffff" stroke-width="0.55"/>
<line x1="383.5" y1="68.15" x2="385.5" y2="68.15" stroke="#ffffff" stroke-width="0.55"/>
<line x1="681.0" y1="68.15" x2="683.0" y2="68.15" stroke="#ffffff" stroke-width="0.55"/>
<line x1="383.5" y1="88.67" x2="385.5" y2="88.67" stroke="#ffffff" stroke-width="0.55"/>
<line x1="681.0" y1="88.67" x2="683.0" y2="88.67" stroke="#ffffff" stroke-width="0.55"/>
<line x1="383.5" y1="109.19" x2="385.5" y2="109.19" stroke="#ffffff" stroke-width="0.55"/>
<line x1="681.0" y1="109.19" x2="683.0" y2="109.19" stroke="#ffffff" stroke-width="0.55"/>
<line x1="383.5" y1="129.70" x2="385.5" y2="129.70" stroke="#ffffff" stroke-width="0.55"/>
<line x1="681.0" y1="129.70" x2="683.0" y2="129.70" stroke="#ffffff" stroke-width="0.55"/>
<line x1="383.5" y1="150.22" x2="385.5" y2="150.22" stroke="#ffffff" stroke-width="0.55"/>
<line x1="681.0" y1="150.22" x2="683.0" y2="150.22" stroke="#ffffff" stroke-width="0.55"/>
<line x1="500.30" y1="169.4" x2="500.30" y2="2.5" stroke="#000" stroke-width="1.4" stroke-dasharray="4.6,4.7"/>
<line x1="565.61" y1="169.4" x2="565.61" y2="2.5" stroke="#000" stroke-width="1.4" stroke-dasharray="4.6,4.7"/>
<polyline points="397.67,55.90 402.33,58.60 407.00,65.30 411.67,68.30 416.33,69.80 421.00,63.00 425.66,60.80 430.32,64.30 434.99,59.30 439.65,52.60 444.32,50.30 448.99,41.70 453.65,44.30 458.31,44.30 462.98,39.60 467.64,33.80 472.31,33.80 476.98,34.30 481.64,39.40 486.31,30.00 490.97,17.70 495.63,18.80 500.30,53.00 504.97,80.40 509.63,84.50 514.29,78.80 518.96,72.00 523.62,62.40 528.29,61.50 532.96,58.50 537.62,64.20 542.28,76.60 546.95,86.70 551.62,88.90 556.28,86.00 560.94,92.00 565.61,132.70 570.27,145.20 574.94,160.60 579.61,161.60 584.27,144.60 588.93,127.00 593.60,125.60 598.26,123.00 602.93,126.50 607.60,129.30 612.26,130.50 616.92,128.50 621.59,120.80 626.25,118.30 630.92,103.90 635.59,86.40 640.25,74.60 644.91,68.10 649.58,65.10 654.25,67.10 658.91,72.10 663.58,83.90 668.24,90.10" fill="none" stroke="#7CAE00" stroke-width="1.9" stroke-linejoin="round" stroke-linecap="butt"/>
<polyline points="397.67,54.00 402.33,57.00 407.00,63.00 411.67,66.80 416.33,68.30 421.00,60.80 425.66,58.60 430.32,61.60 434.99,57.00 439.65,52.30 444.32,51.00 448.99,40.50 453.65,42.30 458.31,43.20 462.98,39.60 467.64,33.80 472.31,36.40 476.98,33.80 481.64,38.30 486.31,28.60 490.97,16.80 495.63,18.10 500.30,52.00 504.97,82.20 509.63,85.60 514.29,80.00 518.96,73.20 523.62,64.20 528.29,62.40 532.96,57.40 537.62,65.30 542.28,77.70 546.95,87.90 551.62,90.40 556.28,86.80 560.94,91.30 565.61,132.50 570.27,145.10 574.94,159.90 579.61,160.30 584.27,144.00 588.93,125.60 593.60,125.00 598.26,122.30 602.93,125.40 607.60,128.20 612.26,129.70 616.92,131.50 621.59,121.50 626.25,116.40 630.92,100.20 635.59,83.90 640.25,72.60 644.91,66.30 649.58,63.80 654.25,65.60 658.91,71.30 663.58,83.90 668.24,87.60" fill="none" stroke="#00BFC4" stroke-width="1.9" stroke-linejoin="round" stroke-linecap="butt"/>
<polyline points="397.67,45.80 402.33,57.80 407.00,70.30 411.67,62.30 416.33,66.80 421.00,57.00 425.66,52.60 430.32,57.00 434.99,48.80 439.65,42.30 444.32,35.70 448.99,32.70 453.65,36.80 458.31,36.00 462.98,31.50 467.64,27.00 472.31,26.80 476.98,27.80 481.64,36.10 486.31,27.00 490.97,9.80 495.63,13.80 500.30,50.00 504.97,78.80 509.63,77.70 514.29,73.70 518.96,67.60 523.62,51.80 528.29,56.30 532.96,53.30 537.62,52.40 542.28,71.00 546.95,81.80 551.62,83.50 556.28,78.80 560.94,97.90 565.61,130.60 570.27,142.30 574.94,154.80 579.61,154.80 584.27,139.00 588.93,121.20 593.60,116.90 598.26,117.00 602.93,120.10 607.60,124.00 612.26,127.70 616.92,119.30 621.59,111.40 626.25,110.20 630.92,92.60 635.59,76.30 640.25,66.30 644.91,62.00 649.58,57.50 654.25,59.50 658.91,66.30 663.58,77.60 668.24,82.10" fill="none" stroke="#C77CFF" stroke-width="1.9" stroke-linejoin="round" stroke-linecap="butt"/>
<line x1="407.00" y1="169.4" x2="407.00" y2="171.4" stroke="#9a9a9a" stroke-width="1"/>
<line x1="430.32" y1="169.4" x2="430.32" y2="171.4" stroke="#9a9a9a" stroke-width="1"/>
<line x1="453.65" y1="169.4" x2="453.65" y2="171.4" stroke="#9a9a9a" stroke-width="1"/>
<line x1="476.98" y1="169.4" x2="476.98" y2="171.4" stroke="#9a9a9a" stroke-width="1"/>
<line x1="500.30" y1="169.4" x2="500.30" y2="171.4" stroke="#9a9a9a" stroke-width="1"/>
<line x1="523.62" y1="169.4" x2="523.62" y2="171.4" stroke="#9a9a9a" stroke-width="1"/>
<line x1="546.95" y1="169.4" x2="546.95" y2="171.4" stroke="#9a9a9a" stroke-width="1"/>
<line x1="570.27" y1="169.4" x2="570.27" y2="171.4" stroke="#9a9a9a" stroke-width="1"/>
<line x1="593.60" y1="169.4" x2="593.60" y2="171.4" stroke="#9a9a9a" stroke-width="1"/>
<line x1="616.92" y1="169.4" x2="616.92" y2="171.4" stroke="#9a9a9a" stroke-width="1"/>
<line x1="640.25" y1="169.4" x2="640.25" y2="171.4" stroke="#9a9a9a" stroke-width="1"/>
<line x1="663.58" y1="169.4" x2="663.58" y2="171.4" stroke="#9a9a9a" stroke-width="1"/>
<line x1="382.5" y1="6.6" x2="384.5" y2="6.6" stroke="#9a9a9a" stroke-width="1"/>
<text x="363.70" y="10.11" font-size="9.8" fill="#4d4d4d" textLength="18.10" lengthAdjust="spacingAndGlyphs">30.0</text>
<line x1="382.5" y1="47.6" x2="384.5" y2="47.6" stroke="#9a9a9a" stroke-width="1"/>
<text x="363.70" y="51.11" font-size="9.8" fill="#4d4d4d" textLength="18.10" lengthAdjust="spacingAndGlyphs">29.5</text>
<line x1="382.5" y1="88.7" x2="384.5" y2="88.7" stroke="#9a9a9a" stroke-width="1"/>
<text x="363.70" y="92.21" font-size="9.8" fill="#4d4d4d" textLength="18.10" lengthAdjust="spacingAndGlyphs">29.0</text>
<line x1="382.5" y1="129.7" x2="384.5" y2="129.7" stroke="#9a9a9a" stroke-width="1"/>
<text x="363.70" y="133.21" font-size="9.8" fill="#4d4d4d" textLength="18.10" lengthAdjust="spacingAndGlyphs">28.5</text>
<rect x="393.8" y="114.95" width="15.00" height="14.6" fill="#f2f2f2"/>
<rect x="394.8" y="117.5" width="13.00" height="9.50" fill="#7CAE00"/>
<text x="414.8" y="125.50" font-size="8.1" fill="#111" stroke="#111" stroke-width="0.18">Deep bay</text>
<rect x="393.8" y="131.25" width="15.00" height="14.6" fill="#f2f2f2"/>
<rect x="394.8" y="133.8" width="13.00" height="9.50" fill="#00BFC4"/>
<text x="414.8" y="141.60" font-size="8.1" fill="#111" stroke="#111" stroke-width="0.18">Runway</text>
<rect x="393.8" y="147.20" width="15.00" height="14.6" fill="#f2f2f2"/>
<rect x="394.8" y="149.8" width="13.00" height="9.40" fill="#C77CFF"/>
<text x="414.8" y="157.70" font-size="8.1" fill="#111" stroke="#111" stroke-width="0.18">Shallow bay</text>
<text x="668.5" y="21.8" text-anchor="end" font-size="17.3" fill="#000" stroke="#000" stroke-width="0.15">c</text>
<text transform="translate(360.5,85.5) rotate(-90)" text-anchor="middle" font-size="12" font-weight="bold" fill="#000" textLength="132.3" lengthAdjust="spacingAndGlyphs">Mean Temperature (°C)</text>
<rect x="383.8" y="182.4" width="300.20" height="167.20" fill="none" stroke="#9a9a9a" stroke-width="1"/>
<line x1="394.63" y1="181.4" x2="394.63" y2="183.4" stroke="#ffffff" stroke-width="0.55"/>
<line x1="394.63" y1="348.6" x2="394.63" y2="350.6" stroke="#ffffff" stroke-width="0.55"/>
<line x1="406.40" y1="181.4" x2="406.40" y2="183.4" stroke="#ffffff" stroke-width="0.55"/>
<line x1="406.40" y1="348.6" x2="406.40" y2="350.6" stroke="#ffffff" stroke-width="0.55"/>
<line x1="418.17" y1="181.4" x2="418.17" y2="183.4" stroke="#ffffff" stroke-width="0.55"/>
<line x1="418.17" y1="348.6" x2="418.17" y2="350.6" stroke="#ffffff" stroke-width="0.55"/>
<line x1="429.94" y1="181.4" x2="429.94" y2="183.4" stroke="#ffffff" stroke-width="0.55"/>
<line x1="429.94" y1="348.6" x2="429.94" y2="350.6" stroke="#ffffff" stroke-width="0.55"/>
<line x1="441.70" y1="181.4" x2="441.70" y2="183.4" stroke="#ffffff" stroke-width="0.55"/>
<line x1="441.70" y1="348.6" x2="441.70" y2="350.6" stroke="#ffffff" stroke-width="0.55"/>
<line x1="453.47" y1="181.4" x2="453.47" y2="183.4" stroke="#ffffff" stroke-width="0.55"/>
<line x1="453.47" y1="348.6" x2="453.47" y2="350.6" stroke="#ffffff" stroke-width="0.55"/>
<line x1="465.24" y1="181.4" x2="465.24" y2="183.4" stroke="#ffffff" stroke-width="0.55"/>
<line x1="465.24" y1="348.6" x2="465.24" y2="350.6" stroke="#ffffff" stroke-width="0.55"/>
<line x1="477.00" y1="181.4" x2="477.00" y2="183.4" stroke="#ffffff" stroke-width="0.55"/>
<line x1="477.00" y1="348.6" x2="477.00" y2="350.6" stroke="#ffffff" stroke-width="0.55"/>
<line x1="488.77" y1="181.4" x2="488.77" y2="183.4" stroke="#ffffff" stroke-width="0.55"/>
<line x1="488.77" y1="348.6" x2="488.77" y2="350.6" stroke="#ffffff" stroke-width="0.55"/>
<line x1="500.54" y1="181.4" x2="500.54" y2="183.4" stroke="#ffffff" stroke-width="0.55"/>
<line x1="500.54" y1="348.6" x2="500.54" y2="350.6" stroke="#ffffff" stroke-width="0.55"/>
<line x1="512.31" y1="181.4" x2="512.31" y2="183.4" stroke="#ffffff" stroke-width="0.55"/>
<line x1="512.31" y1="348.6" x2="512.31" y2="350.6" stroke="#ffffff" stroke-width="0.55"/>
<line x1="524.07" y1="181.4" x2="524.07" y2="183.4" stroke="#ffffff" stroke-width="0.55"/>
<line x1="524.07" y1="348.6" x2="524.07" y2="350.6" stroke="#ffffff" stroke-width="0.55"/>
<line x1="535.84" y1="181.4" x2="535.84" y2="183.4" stroke="#ffffff" stroke-width="0.55"/>
<line x1="535.84" y1="348.6" x2="535.84" y2="350.6" stroke="#ffffff" stroke-width="0.55"/>
<line x1="547.61" y1="181.4" x2="547.61" y2="183.4" stroke="#ffffff" stroke-width="0.55"/>
<line x1="547.61" y1="348.6" x2="547.61" y2="350.6" stroke="#ffffff" stroke-width="0.55"/>
<line x1="559.38" y1="181.4" x2="559.38" y2="183.4" stroke="#ffffff" stroke-width="0.55"/>
<line x1="559.38" y1="348.6" x2="559.38" y2="350.6" stroke="#ffffff" stroke-width="0.55"/>
<line x1="571.14" y1="181.4" x2="571.14" y2="183.4" stroke="#ffffff" stroke-width="0.55"/>
<line x1="571.14" y1="348.6" x2="571.14" y2="350.6" stroke="#ffffff" stroke-width="0.55"/>
<line x1="582.91" y1="181.4" x2="582.91" y2="183.4" stroke="#ffffff" stroke-width="0.55"/>
<line x1="582.91" y1="348.6" x2="582.91" y2="350.6" stroke="#ffffff" stroke-width="0.55"/>
<line x1="594.68" y1="181.4" x2="594.68" y2="183.4" stroke="#ffffff" stroke-width="0.55"/>
<line x1="594.68" y1="348.6" x2="594.68" y2="350.6" stroke="#ffffff" stroke-width="0.55"/>
<line x1="606.45" y1="181.4" x2="606.45" y2="183.4" stroke="#ffffff" stroke-width="0.55"/>
<line x1="606.45" y1="348.6" x2="606.45" y2="350.6" stroke="#ffffff" stroke-width="0.55"/>
<line x1="618.21" y1="181.4" x2="618.21" y2="183.4" stroke="#ffffff" stroke-width="0.55"/>
<line x1="618.21" y1="348.6" x2="618.21" y2="350.6" stroke="#ffffff" stroke-width="0.55"/>
<line x1="629.98" y1="181.4" x2="629.98" y2="183.4" stroke="#ffffff" stroke-width="0.55"/>
<line x1="629.98" y1="348.6" x2="629.98" y2="350.6" stroke="#ffffff" stroke-width="0.55"/>
<line x1="641.75" y1="181.4" x2="641.75" y2="183.4" stroke="#ffffff" stroke-width="0.55"/>
<line x1="641.75" y1="348.6" x2="641.75" y2="350.6" stroke="#ffffff" stroke-width="0.55"/>
<line x1="653.52" y1="181.4" x2="653.52" y2="183.4" stroke="#ffffff" stroke-width="0.55"/>
<line x1="653.52" y1="348.6" x2="653.52" y2="350.6" stroke="#ffffff" stroke-width="0.55"/>
<line x1="665.28" y1="181.4" x2="665.28" y2="183.4" stroke="#ffffff" stroke-width="0.55"/>
<line x1="665.28" y1="348.6" x2="665.28" y2="350.6" stroke="#ffffff" stroke-width="0.55"/>
<line x1="677.05" y1="181.4" x2="677.05" y2="183.4" stroke="#ffffff" stroke-width="0.55"/>
<line x1="677.05" y1="348.6" x2="677.05" y2="350.6" stroke="#ffffff" stroke-width="0.55"/>
<line x1="382.8" y1="341.40" x2="384.8" y2="341.40" stroke="#ffffff" stroke-width="0.55"/>
<line x1="683.0" y1="341.40" x2="685.0" y2="341.40" stroke="#ffffff" stroke-width="0.55"/>
<line x1="382.8" y1="317.25" x2="384.8" y2="317.25" stroke="#ffffff" stroke-width="0.55"/>
<line x1="683.0" y1="317.25" x2="685.0" y2="317.25" stroke="#ffffff" stroke-width="0.55"/>
<line x1="382.8" y1="293.10" x2="384.8" y2="293.10" stroke="#ffffff" stroke-width="0.55"/>
<line x1="683.0" y1="293.10" x2="685.0" y2="293.10" stroke="#ffffff" stroke-width="0.55"/>
<line x1="382.8" y1="268.95" x2="384.8" y2="268.95" stroke="#ffffff" stroke-width="0.55"/>
<line x1="683.0" y1="268.95" x2="685.0" y2="268.95" stroke="#ffffff" stroke-width="0.55"/>
<line x1="382.8" y1="244.80" x2="384.8" y2="244.80" stroke="#ffffff" stroke-width="0.55"/>
<line x1="683.0" y1="244.80" x2="685.0" y2="244.80" stroke="#ffffff" stroke-width="0.55"/>
<line x1="382.8" y1="220.65" x2="384.8" y2="220.65" stroke="#ffffff" stroke-width="0.55"/>
<line x1="683.0" y1="220.65" x2="685.0" y2="220.65" stroke="#ffffff" stroke-width="0.55"/>
<line x1="382.8" y1="196.50" x2="384.8" y2="196.50" stroke="#ffffff" stroke-width="0.55"/>
<line x1="683.0" y1="196.50" x2="685.0" y2="196.50" stroke="#ffffff" stroke-width="0.55"/>
<line x1="500.54" y1="349.6" x2="500.54" y2="182.4" stroke="#000" stroke-width="1.4" stroke-dasharray="4.6,4.7"/>
<line x1="566.44" y1="349.6" x2="566.44" y2="182.4" stroke="#000" stroke-width="1.4" stroke-dasharray="4.6,4.7"/>
<polyline points="396.99,205.90 401.69,237.50 406.40,245.80 411.11,212.50 415.81,223.50 420.52,228.20 425.23,220.70 429.94,212.50 434.64,215.30 439.35,189.60 444.06,207.50 448.76,204.80 453.47,229.60 458.18,230.10 462.88,215.30 467.59,233.70 472.30,242.00 477.00,217.20 481.71,264.00 486.42,205.30 491.13,244.70 495.83,231.00 500.54,271.00 505.25,278.00 509.95,305.10 514.66,330.70 519.37,321.40 524.07,310.20 528.78,325.70 533.49,327.20 538.20,325.70 542.90,317.70 547.61,325.70 552.32,316.00 557.02,308.80 561.73,331.40 566.44,276.00 571.14,293.80 575.85,305.70 580.56,290.70 585.27,297.60 589.97,296.70 594.68,317.70 599.39,323.80 604.09,325.30 608.80,305.70 613.51,319.80 618.21,309.60 622.92,280.20 627.63,294.60 632.34,268.70 637.04,250.70 641.75,252.50 646.46,246.50 651.16,264.50 655.87,264.50 660.58,287.70 665.28,314.70 669.99,316.80" fill="none" stroke="#7CAE00" stroke-width="1.9" stroke-linejoin="round" stroke-linecap="butt"/>
<polyline points="396.99,240.30 401.69,252.30 406.40,276.30 411.11,231.30 415.81,254.50 420.52,277.70 425.23,274.40 429.94,244.70 434.64,292.00 439.35,252.20 444.06,268.70 448.76,261.30 453.47,252.20 458.18,233.70 462.88,241.20 467.59,253.80 472.30,251.00 477.00,258.50 481.71,286.00 486.42,258.50 491.13,262.00 495.83,248.90 500.54,271.00 505.25,273.80 509.95,292.60 514.66,327.70 519.37,311.40 524.07,322.70 528.78,335.70 533.49,325.20 538.20,341.50 542.90,318.30 547.61,328.00 552.32,303.70 557.02,303.00 561.73,294.40 566.44,265.70 571.14,276.70 575.85,264.50 580.56,251.60 585.27,251.60 589.97,241.70 594.68,247.70 599.39,264.00 604.09,273.50 608.80,263.60 613.51,265.10 618.21,275.60 622.92,278.60 627.63,260.60 632.34,257.60 637.04,254.60 641.75,269.60 646.46,260.60 651.16,271.70 655.87,276.50 660.58,283.20 665.28,299.70 669.99,330.70" fill="none" stroke="#C77CFF" stroke-width="1.9" stroke-linejoin="round" stroke-linecap="butt"/>
<line x1="406.40" y1="349.6" x2="406.40" y2="351.6" stroke="#9a9a9a" stroke-width="1"/>
<text transform="translate(408.70,353.3) rotate(-90)" text-anchor="end" font-size="9.2" fill="#4d4d4d">Aug 17</text>
<line x1="429.94" y1="349.6" x2="429.94" y2="351.6" stroke="#9a9a9a" stroke-width="1"/>
<text transform="translate(432.24,353.3) rotate(-90)" text-anchor="end" font-size="9.2" fill="#4d4d4d">Aug 22</text>
<line x1="453.47" y1="349.6" x2="453.47" y2="351.6" stroke="#9a9a9a" stroke-width="1"/>
<text transform="translate(455.77,353.3) rotate(-90)" text-anchor="end" font-size="9.2" fill="#4d4d4d">Aug 27</text>
<line x1="477.00" y1="349.6" x2="477.00" y2="351.6" stroke="#9a9a9a" stroke-width="1"/>
<text transform="translate(479.31,353.3) rotate(-90)" text-anchor="end" font-size="9.2" fill="#4d4d4d">Sep 01</text>
<line x1="500.54" y1="349.6" x2="500.54" y2="351.6" stroke="#9a9a9a" stroke-width="1"/>
<text transform="translate(502.84,353.3) rotate(-90)" text-anchor="end" font-size="9.2" fill="#4d4d4d">Sep 06</text>
<line x1="524.07" y1="349.6" x2="524.07" y2="351.6" stroke="#9a9a9a" stroke-width="1"/>
<text transform="translate(526.37,353.3) rotate(-90)" text-anchor="end" font-size="9.2" fill="#4d4d4d">Sep 11</text>
<line x1="547.61" y1="349.6" x2="547.61" y2="351.6" stroke="#9a9a9a" stroke-width="1"/>
<text transform="translate(549.91,353.3) rotate(-90)" text-anchor="end" font-size="9.2" fill="#4d4d4d">Sep 16</text>
<line x1="571.14" y1="349.6" x2="571.14" y2="351.6" stroke="#9a9a9a" stroke-width="1"/>
<text transform="translate(573.44,353.3) rotate(-90)" text-anchor="end" font-size="9.2" fill="#4d4d4d">Sep 21</text>
<line x1="594.68" y1="349.6" x2="594.68" y2="351.6" stroke="#9a9a9a" stroke-width="1"/>
<text transform="translate(596.98,353.3) rotate(-90)" text-anchor="end" font-size="9.2" fill="#4d4d4d">Sep 26</text>
<line x1="618.21" y1="349.6" x2="618.21" y2="351.6" stroke="#9a9a9a" stroke-width="1"/>
<text transform="translate(620.51,353.3) rotate(-90)" text-anchor="end" font-size="9.2" fill="#4d4d4d">Oct 01</text>
<line x1="641.75" y1="349.6" x2="641.75" y2="351.6" stroke="#9a9a9a" stroke-width="1"/>
<text transform="translate(644.05,353.3) rotate(-90)" text-anchor="end" font-size="9.2" fill="#4d4d4d">Oct 06</text>
<line x1="665.28" y1="349.6" x2="665.28" y2="351.6" stroke="#9a9a9a" stroke-width="1"/>
<text transform="translate(667.58,353.3) rotate(-90)" text-anchor="end" font-size="9.2" fill="#4d4d4d">Oct 11</text>
<line x1="381.8" y1="196.5" x2="383.8" y2="196.5" stroke="#9a9a9a" stroke-width="1"/>
<text x="367.67" y="200.01" font-size="9.8" fill="#4d4d4d" textLength="12.93" lengthAdjust="spacingAndGlyphs">6.5</text>
<line x1="381.8" y1="244.8" x2="383.8" y2="244.8" stroke="#9a9a9a" stroke-width="1"/>
<text x="367.67" y="248.31" font-size="9.8" fill="#4d4d4d" textLength="12.93" lengthAdjust="spacingAndGlyphs">6.0</text>
<line x1="381.8" y1="293.1" x2="383.8" y2="293.1" stroke="#9a9a9a" stroke-width="1"/>
<text x="367.67" y="296.61" font-size="9.8" fill="#4d4d4d" textLength="12.93" lengthAdjust="spacingAndGlyphs">5.5</text>
<line x1="381.8" y1="341.4" x2="383.8" y2="341.4" stroke="#9a9a9a" stroke-width="1"/>
<text x="367.67" y="344.91" font-size="9.8" fill="#4d4d4d" textLength="12.93" lengthAdjust="spacingAndGlyphs">5.0</text>
<rect x="394.7" y="309.65" width="15.20" height="14.6" fill="#f2f2f2"/>
<rect x="395.7" y="312.3" width="13.20" height="9.30" fill="#7CAE00"/>
<text x="415.6" y="320.20" font-size="8.1" fill="#111" stroke="#111" stroke-width="0.18">Deep bay</text>
<rect x="394.7" y="324.60" width="15.20" height="14.6" fill="#f2f2f2"/>
<rect x="395.7" y="327.1" width="13.20" height="9.60" fill="#C77CFF"/>
<text x="415.6" y="335.00" font-size="8.1" fill="#111" stroke="#111" stroke-width="0.18">Shallow bay</text>
<text x="669.6" y="199.8" text-anchor="end" font-size="17.3" fill="#000" stroke="#000" stroke-width="0.15">d</text>
<text transform="translate(365,266) rotate(-90)" text-anchor="middle" font-size="12" font-weight="bold" fill="#000" textLength="175.3" lengthAdjust="spacingAndGlyphs">Mean Dissolved Oxygen (mg/l)</text>
<text x="533.75" y="392.6" text-anchor="middle" font-size="11.5" font-weight="bold" fill="#000">Date</text>
</g></svg>
</body></html>
